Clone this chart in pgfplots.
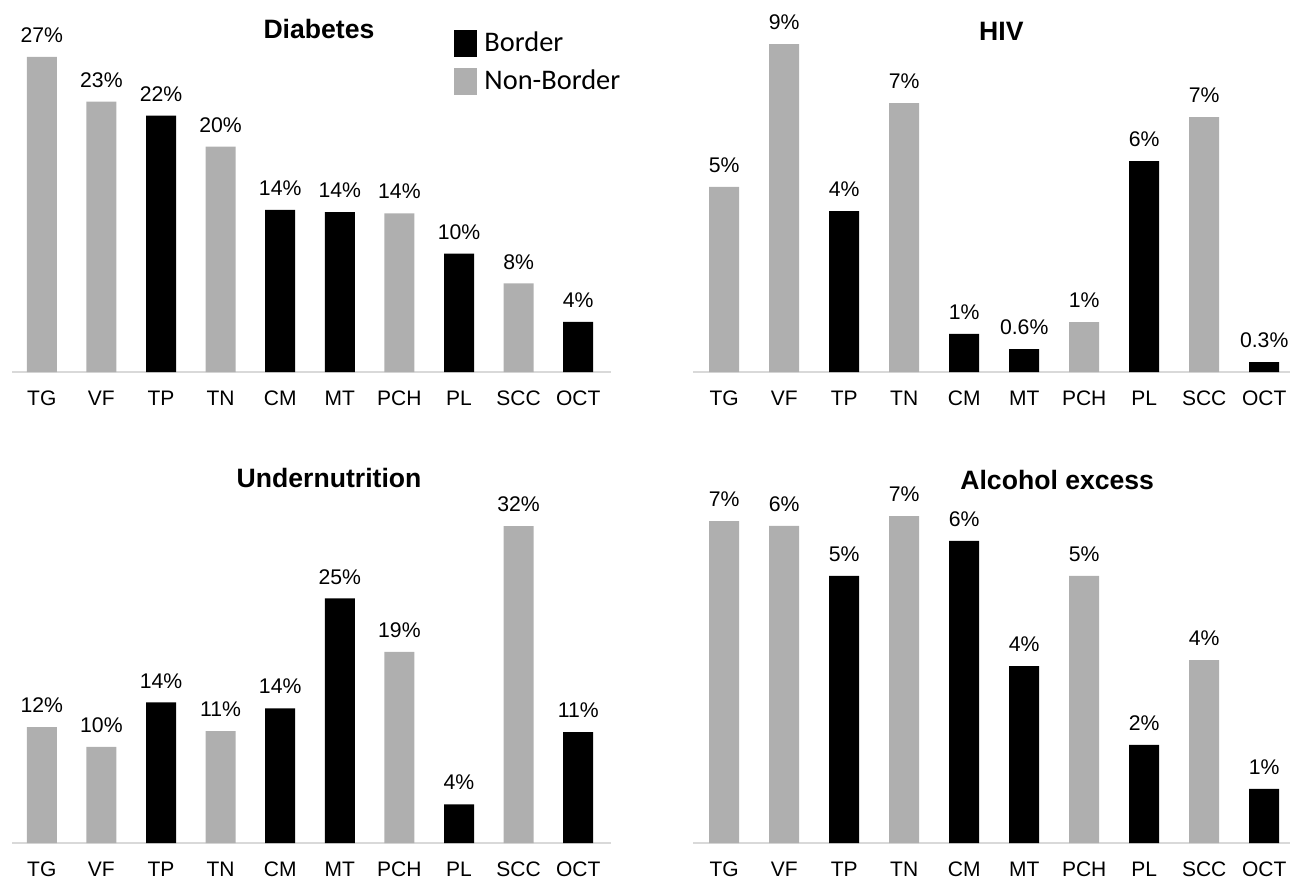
\documentclass[border=0pt]{standalone}
\usepackage{fontspec}
\setmainfont{Liberation Sans}
\newfontfamily\legfont{Carlito}
\usepackage{pgfplots}
\pgfplotsset{compat=1.18}

\definecolor{nonborder}{RGB}{175,175,175}
\definecolor{baseline}{RGB}{217,217,217}

\pgfplotsset{
  panel/.style={
    ybar, bar width=15pt,
    ymin=0, xmin=-0.5, enlargelimits=false,
    axis x line*=bottom, axis y line=none,
    x axis line style={draw=baseline, line width=1pt},
    xtick={0,...,9},
    xticklabels={TG,VF,TP,TN,CM,MT,PCH,PL,SCC,OCT},
    major tick length=0pt,
    xticklabel style={font=\fontsize{10.5}{12}\selectfont, inner sep=0pt,
      text height=7.6pt, text depth=0pt, anchor=north, yshift=-9pt},
    point meta=explicit symbolic,
    nodes near coords,
    nodes near coords style={font=\fontsize{10.6}{12}\selectfont, inner sep=0pt,
      text depth=0pt, anchor=south, yshift=7pt},
    clip=false,
    anchor=south west,
  },
  bord/.style={fill=black, draw=none, bar shift=0pt},
  nonb/.style={fill=nonborder, draw=none, bar shift=0pt},
}
\tikzset{ttl/.style={font=\bfseries\fontsize{13.3}{15}\selectfont}}

\begin{document}
\begin{tikzpicture}

% Diabetes
\begin{axis}[panel, at={(6pt,254pt)}, x=29.8pt, y=5.75pt, xmax=9.55, ymax=32,
  legend style={at={(0.738,0.931)}, anchor=north west, draw=none, fill=none,
    inner sep=0pt, row sep=5.5pt, font=\legfont\fontsize{14.2}{16}\selectfont,
    nodes={inner sep=0pt}, /tikz/every odd column/.append style={column sep=3.5pt}},
  legend cell align=left,
  legend image code/.code={\fill[#1] (0pt,-6.75pt) rectangle (11.5pt,6.75pt);}]
  \addplot[bord] coordinates {(2,22.3)[22\%] (4,14.1)[14\%] (5,13.9)[14\%] (7,10.3)[10\%] (9,4.35)[4\%]};
  \addlegendentry{Border}
  \addplot[nonb] coordinates {(0,27.4)[27\%] (1,23.5)[23\%] (3,19.6)[20\%] (6,13.8)[14\%] (8,7.7)[8\%]};
  \addlegendentry{Non-Border}
  \node[ttl] at (axis cs:4.65,29.8) {Diabetes};
\end{axis}

% HIV
\begin{axis}[panel, at={(346.5pt,254pt)}, x=30pt, y=18.5pt, xmin=-0.52, xmax=9.6, ymax=10]
  \addplot[bord] coordinates {(2,4.35)[4\%] (4,1.03)[1\%] (5,0.62)[0.6\%] (7,5.7)[6\%] (9,0.27)[0.3\%]};
  \addplot[nonb] coordinates {(0,5.0)[5\%] (1,8.86)[9\%] (3,7.27)[7\%] (6,1.35)[1\%] (8,6.89)[7\%]};
  \node[ttl] at (axis cs:4.62,9.2) {HIV};
\end{axis}

% Undernutrition
\begin{axis}[panel, at={(6pt,18.5pt)}, x=29.8pt, y=4.95pt, xmax=9.55, ymax=40]
  \addplot[bord] coordinates {(2,14.2)[14\%] (4,13.6)[14\%] (5,24.7)[25\%] (7,3.9)[4\%] (9,11.2)[11\%]};
  \addplot[nonb] coordinates {(0,11.7)[12\%] (1,9.7)[10\%] (3,11.3)[11\%] (6,19.3)[19\%] (8,32.0)[32\%]};
  \node[ttl] at (axis cs:4.82,36.9) {Undernutrition};
\end{axis}

% Alcohol excess
\begin{axis}[panel, at={(346.5pt,18.5pt)}, x=30pt, y=24.65pt, xmin=-0.52, xmax=9.6, ymax=8]
  \addplot[bord] coordinates {(2,5.42)[5\%] (4,6.13)[6\%] (5,3.59)[4\%] (7,1.99)[2\%] (9,1.10)[1\%]};
  \addplot[nonb] coordinates {(0,6.53)[7\%] (1,6.43)[6\%] (3,6.63)[7\%] (6,5.42)[5\%] (8,3.71)[4\%]};
  \node[ttl] at (axis cs:5.55,7.36) {Alcohol excess};
\end{axis}

\pgfresetboundingbox
\path[use as bounding box] (0,0) rectangle (645pt,440pt);
\end{tikzpicture}
\end{document}
